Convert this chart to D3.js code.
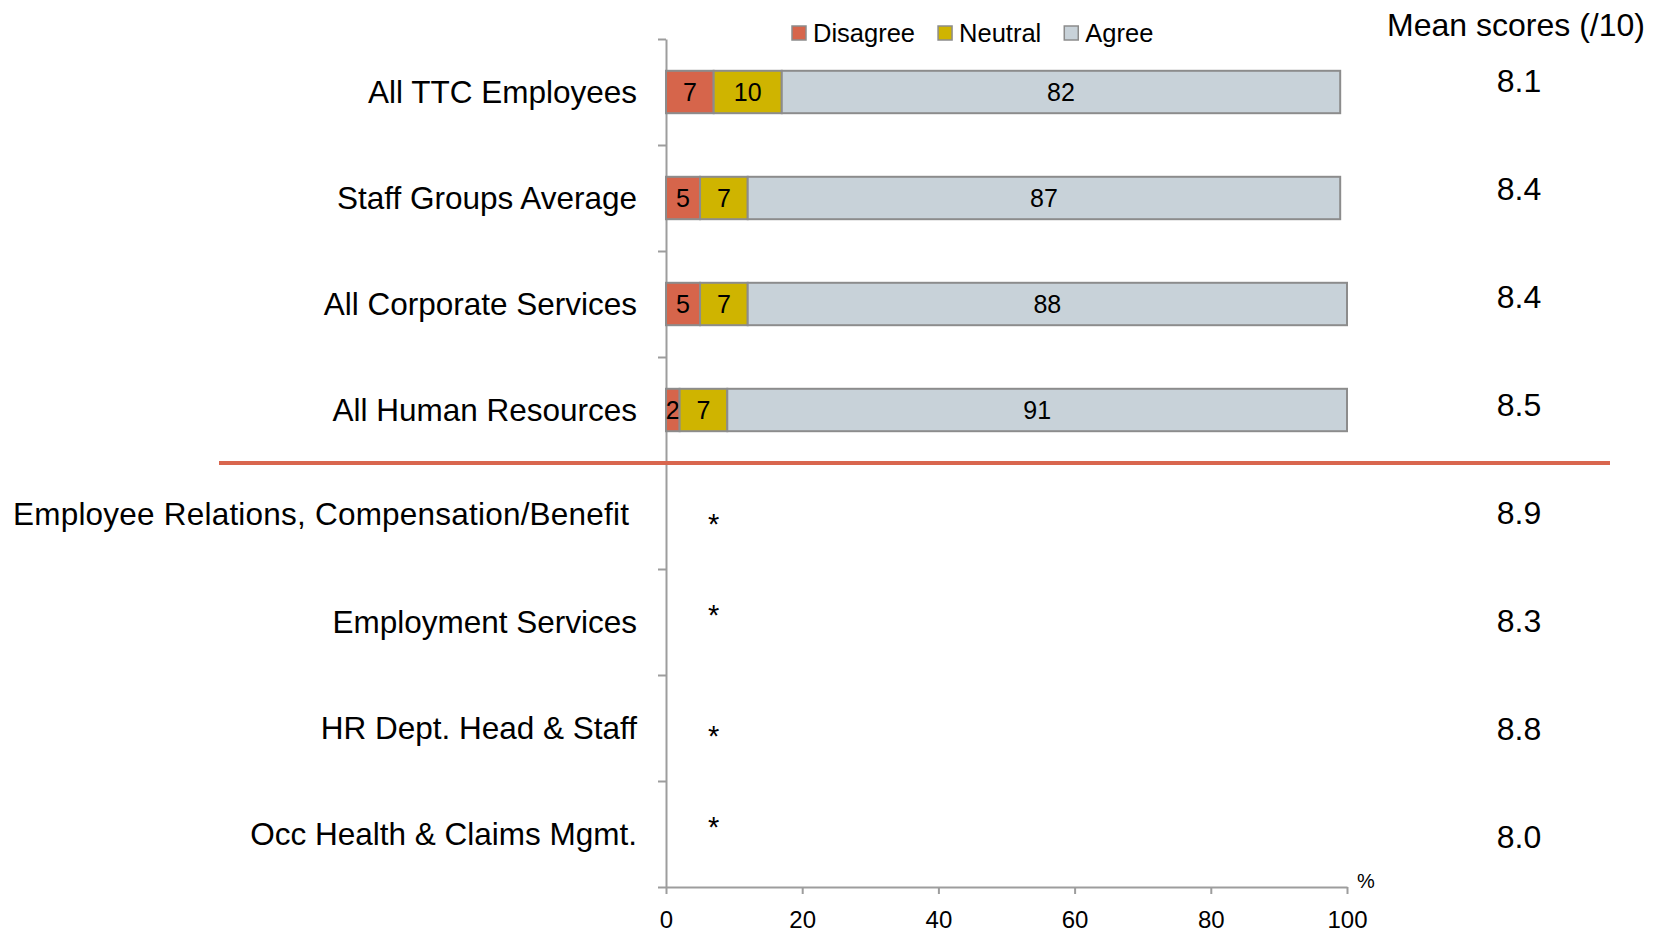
<!DOCTYPE html>
<html>
<head>
<meta charset="utf-8">
<script src="https://cdn.jsdelivr.net/npm/d3@7"></script>
<style>
  body { margin: 0; background: #fff; }
  svg { display: block; font-family: "Liberation Sans", Arial, sans-serif; }
</style>
</head>
<body>
<script>
// rows of the chart, top to bottom
const categories = [
  "All TTC Employees",
  "Staff Groups Average",
  "All Corporate Services",
  "All Human Resources",
  "Employee Relations, Compensation/Benefit",
  "Employment Services",
  "HR Dept. Head & Staff",
  "Occ Health & Claims Mgmt."
];
// percentages, only the first four rows have bars
const disagree = [7, 5, 5, 2];
const neutral = [10, 7, 7, 7];
const agree = [82, 87, 88, 91];
// rows shown with a "*" (sample too small)
const suppressedRows = [4, 5, 6, 7];
const meanScores = [8.1, 8.4, 8.4, 8.5, 8.9, 8.3, 8.8, 8.0];
const seriesNames = ["Disagree", "Neutral", "Agree"];
const xTicks = [0, 20, 40, 60, 80, 100];

const colors = { Disagree: "#D6654B", Neutral: "#CFB400", Agree: "#C8D2D9" };

const width = 1663, height = 932;
const svg = d3.select("body").append("svg")
  .attr("width", width)
  .attr("height", height);

const x = d3.scaleLinear().domain([0, 100]).range([666, 1347]);
const y = d3.scaleBand().domain(categories).range([39, 887])
  .paddingInner(0.6).paddingOuter(0.3);
const yEdge = d3.scaleLinear().domain([0, categories.length]).range([39, 887]);
const yMean = d3.scalePoint().domain(categories).range([80, 836]);

const rows = disagree.map((d, i) => ({
  cat: categories[i], Disagree: d, Neutral: neutral[i], Agree: agree[i]
}));
const stacked = d3.stack().keys(seriesNames)(rows);

// axes
const axisColor = "#9d9d9d";
const yAxis = svg.append("g")
  .attr("transform", `translate(${x(0)},0)`)
  .call(d3.axisLeft(yEdge).tickValues(d3.range(categories.length + 1))
    .tickFormat("").tickSize(8).tickSizeOuter(0));

const xAxis = svg.append("g")
  .attr("transform", `translate(0,${yEdge(categories.length)})`)
  .call(d3.axisBottom(x).tickValues(xTicks).tickSize(7).tickSizeOuter(0).tickPadding(17));

[yAxis, xAxis].forEach(g => {
  g.select(".domain").attr("stroke", axisColor).attr("stroke-width", 2);
  g.selectAll(".tick line").attr("stroke", axisColor).attr("stroke-width", 2);
});
xAxis.selectAll(".tick text")
  .attr("fill", "#000")
  .style("font-size", "24px");

svg.append("text")
  .attr("x", x(100) + 19).attr("y", yEdge(categories.length) + 1)
  .attr("text-anchor", "middle")
  .style("font-size", "20px")
  .text("%");

// bars
const layer = svg.selectAll("g.layer").data(stacked).enter().append("g")
  .attr("class", "layer")
  .attr("fill", d => colors[d.key]);

layer.selectAll("rect").data(d => d).enter().append("rect")
  .attr("x", d => x(d[0]))
  .attr("y", d => y(d.data.cat))
  .attr("width", d => x(d[1]) - x(d[0]))
  .attr("height", y.bandwidth())
  .attr("stroke", "#8c8c8c")
  .attr("stroke-width", 2);

layer.selectAll("text").data(d => d.map(v => Object.assign({ key: d.key }, v))).enter()
  .append("text")
  .attr("x", d => (x(d[0]) + x(d[1])) / 2)
  .attr("y", d => y(d.data.cat) + y.bandwidth() / 2)
  .attr("dy", "0.36em")
  .attr("text-anchor", "middle")
  .attr("fill", "#000")
  .style("font-size", "25px")
  .text(d => d.data[d.key]);

// asterisks for suppressed rows
svg.selectAll("text.star").data(suppressedRows).enter().append("text")
  .attr("class", "star")
  .attr("x", x(7))
  .attr("y", (r, i) => y(categories[r]) + y.bandwidth() / 2 + 14 + (i % 2 ? -11 : 4))
  .attr("text-anchor", "middle")
  .style("font-size", "29px")
  .text("*");

// separator between totals and sub-groups
svg.append("line")
  .attr("x1", 219).attr("x2", 1610)
  .attr("y1", yEdge(4)).attr("y2", yEdge(4))
  .attr("stroke", "#D9664E")
  .attr("stroke-width", 4);

// category labels (very long ones get pushed to the left margin)
svg.selectAll("text.cat").data(categories).enter().append("text")
  .attr("class", "cat")
  .attr("x", 637)
  .attr("y", d => y(d) + y.bandwidth() / 2)
  .attr("dy", "0.35em")
  .attr("text-anchor", "end")
  .style("font-size", "31.5px")
  .text(d => d)
  .each(function () {
    const len = this.getComputedTextLength();
    if (len > 560) {
      d3.select(this).attr("text-anchor", "start").attr("x", 13)
        .attr("dy", "0.3em")
        .attr("textLength", 616)
        .attr("lengthAdjust", "spacing");
    }
  });

// mean scores column
svg.append("text")
  .attr("x", 1516).attr("y", 36)
  .attr("text-anchor", "middle")
  .style("font-size", "32px")
  .text("Mean scores (/10)");

svg.selectAll("text.mean").data(meanScores).enter().append("text")
  .attr("class", "mean")
  .attr("x", 1519)
  .attr("y", (d, i) => yMean(categories[i]))
  .attr("dy", "0.36em")
  .attr("text-anchor", "middle")
  .style("font-size", "32px")
  .text(d => d.toFixed(1));

// legend
const legend = svg.append("g");
let lx = 792;
seriesNames.forEach(name => {
  legend.append("rect")
    .attr("x", lx).attr("y", 26)
    .attr("width", 14).attr("height", 14)
    .attr("fill", colors[name])
    .attr("stroke", "#8c8c8c")
    .attr("stroke-width", 1.5);
  const t = legend.append("text")
    .attr("x", lx + 21).attr("y", 42)
    .style("font-size", "25.5px")
    .text(name);
  lx += 21 + t.node().getComputedTextLength() + 23;
});
</script>
</body>
</html>
